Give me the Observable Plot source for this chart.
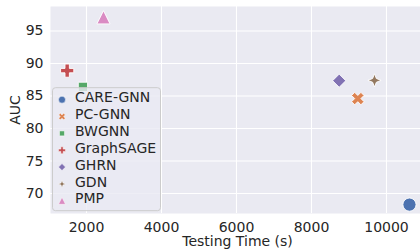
<!DOCTYPE html>
<html>
<head>
<meta charset="utf-8">
<script src="https://cdn.jsdelivr.net/npm/d3@7"></script>
<script src="https://cdn.jsdelivr.net/npm/@observablehq/plot@0.6"></script>
<style>
  html, body { margin: 0; padding: 0; background: #ffffff; }
  #chart { width: 420px; height: 251px; }
</style>
</head>
<body>
<div id="chart"></div>
<script>
// ---- data ----
const methods = ["CARE-GNN", "PC-GNN", "BWGNN", "GraphSAGE", "GHRN", "GDN", "PMP"];
const testingTime = [10613, 9235, 1905, 1485, 8739, 9680, 2453];
const auc = [68.3, 84.6, 86.4, 88.9, 87.35, 87.4, 97.1];
const colors = ["#4C72B0", "#DD8452", "#55A868", "#C44E52", "#8172B3", "#937860", "#DA8BC3"];
const xTicks = [2000, 4000, 6000, 8000, 10000];
const yTicks = [70, 75, 80, 85, 90, 95];
const xLabel = "Testing Time (s)";
const yLabel = "AUC";

const rows = methods.map((m, i) => ({method: m, time: testingTime[i], auc: auc[i]}));

// ---- seaborn-like marker shapes (unit size = marker diameter) ----
function polySymbol(pts) {
  return {
    draw(ctx, size) {
      const s = Math.sqrt(size / Math.PI) * 2;
      ctx.moveTo(pts[0][0] * s, pts[0][1] * s);
      for (let i = 1; i < pts.length; ++i) ctx.lineTo(pts[i][0] * s, pts[i][1] * s);
      ctx.closePath();
    }
  };
}
const plusPts = [[-1,-3],[1,-3],[1,-1],[3,-1],[3,1],[1,1],[1,3],[-1,3],[-1,1],[-3,1],[-3,-1],[-1,-1]].map(([x, y]) => [x / 6, y / 6]);
const c45 = Math.SQRT1_2;
const xPts = plusPts.map(([x, y]) => [(x - y) * c45, (x + y) * c45]);
const h = 0.5 * c45;
const squarePts = [[-h,-h],[h,-h],[h,h],[-h,h]];
const diamondPts = [[0,-0.5],[0.5,0],[0,0.5],[-0.5,0]];
const starPts = [];
for (let k = 0; k < 8; ++k) {
  const a = -Math.PI / 2 + k * Math.PI / 4;
  const r = k % 2 === 0 ? 0.5 : 0.2;
  starPts.push([r * Math.cos(a), r * Math.sin(a)]);
}
const triPts = [[0,-0.5],[-0.5,0.5],[0.5,0.5]];
const circleSym = {
  draw(ctx, size) {
    const r = Math.sqrt(size / Math.PI);
    ctx.moveTo(r, 0);
    ctx.arc(0, 0, r, 0, 2 * Math.PI);
  }
};
const symbols = [circleSym, polySymbol(xPts), polySymbol(squarePts), polySymbol(plusPts),
                 polySymbol(diamondPts), polySymbol(starPts), polySymbol(triPts)];

const textColor = "#262626";

const chart = Plot.plot({
  width: 420,
  height: 251,
  marginLeft: 50,
  marginRight: 0,
  marginTop: 6,
  marginBottom: 38,
  style: {fontFamily: "'DejaVu Sans', sans-serif", fontSize: "14px", color: textColor, background: "#ffffff"},
  x: {domain: [1040, 10907], label: null},
  y: {domain: [66.93, 98.76], label: null},
  color: {domain: methods, range: colors},
  symbol: {domain: methods, range: symbols},
  marks: [
    Plot.frame({fill: "#EAEAF2", stroke: null}),
    Plot.gridX({ticks: xTicks, stroke: "#ffffff", strokeOpacity: 1, strokeWidth: 1.1}),
    Plot.gridY({ticks: yTicks, stroke: "#ffffff", strokeOpacity: 1, strokeWidth: 1.1}),
    Plot.axisX({ticks: xTicks, tickSize: 0, tickPadding: 8.5, fontSize: 14, label: null, tickFormat: d => String(d)}),
    Plot.axisY({ticks: yTicks, tickSize: 0, tickPadding: 7, fontSize: 14, label: null, tickFormat: d => String(d)}),
    Plot.text([xLabel], {frameAnchor: "bottom", textAnchor: "middle", dy: 32.7, dx: 2, fontSize: 14, fill: textColor}),
    Plot.text([yLabel], {frameAnchor: "left", textAnchor: "middle", rotate: -90, dx: -34.5, dy: 0, fontSize: 14, fill: textColor}),
    Plot.dot(rows, {x: "time", y: "auc", fill: "method", symbol: "method", r: 6.6, stroke: "#ffffff", strokeWidth: 0.9})
  ]
});
document.getElementById("chart").appendChild(chart);

// ---- legend (drawn inside the plot area, like matplotlib's) ----
const svg = d3.select(chart.tagName.toLowerCase() === "svg" ? chart : chart.querySelector("svg"));
const lg = svg.append("g")
  .attr("font-family", "'DejaVu Sans', sans-serif")
  .attr("font-size", 14)
  .attr("text-anchor", "start");
lg.append("rect")
  .attr("x", 52.5).attr("y", 87.7).attr("width", 108).attr("height", 123)
  .attr("rx", 3).attr("ry", 3)
  .attr("fill", "#EAEAF2").attr("fill-opacity", 0.8)
  .attr("stroke", "#cccccc").attr("stroke-width", 1);
methods.forEach((m, i) => {
  const base = 102.3 + i * 16.85;
  lg.append("path")
    .attr("d", d3.symbol(symbols[i], Math.PI * 3.5 * 3.5)())
    .attr("transform", `translate(62,${base - 2.6})`)
    .attr("fill", colors[i]).attr("stroke", "#ffffff").attr("stroke-width", 0.5);
  lg.append("text")
    .attr("x", 75).attr("y", base)
    .attr("text-anchor", "start")
    .attr("fill", textColor)
    .text(m);
});
</script>
</body>
</html>
